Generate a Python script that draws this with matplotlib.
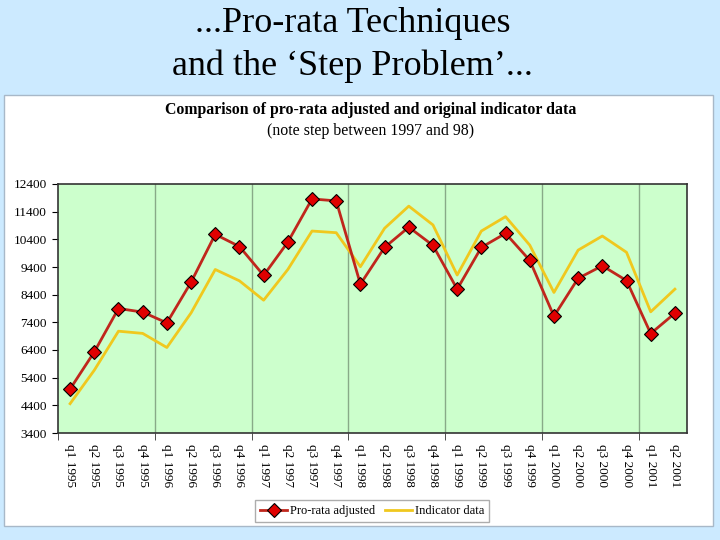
import matplotlib
matplotlib.use("Agg")
import matplotlib.pyplot as plt
from matplotlib.patches import Rectangle

plt.rcParams['font.family'] = ['Liberation Serif', 'DejaVu Serif']

# data
quarters = ['q1', 'q2', 'q3', 'q4']
years = [1995, 1996, 1997, 1998, 1999, 2000, 2001]
labels = [f'{q} {y}' for y in years for q in quarters][:26]

prorata = [4990, 6330, 7900, 7770, 7380, 8850, 10580, 10140, 9095, 10300,
           11860, 11790, 8780, 10110, 10840, 10180, 8600, 10110, 10615, 9640,
           7620, 8990, 9445, 8910, 6995, 7730]
indicator = [4460, 5670, 7080, 7000, 6490, 7740, 9310, 8900, 8200, 9310,
             10700, 10640, 9410, 10800, 11600, 10920, 9110, 10700, 11220, 10190,
             8480, 10010, 10520, 9930, 7780, 8600]

yticks = list(range(3400, 12401, 1000))

# figure
fig = plt.figure(figsize=(7.2, 5.4), dpi=100)
fig.patch.set_facecolor('#cceaff')

panel = Rectangle((4 / 720, 1 - 526 / 540), 709 / 720, 431 / 540,
                  transform=fig.transFigure, facecolor='white',
                  edgecolor='#a8b8c8', linewidth=1, zorder=-5)
fig.patches.append(panel)

fig.text(0.49, 0.957, '...Pro-rata Techniques', ha='center', va='center', fontsize=26)
fig.text(0.49, 0.877, 'and the \u2018Step Problem\u2019...', ha='center', va='center', fontsize=26)
fig.text(0.515, 0.797, 'Comparison of pro-rata adjusted and original indicator data',
         ha='center', va='center', fontsize=11.4, fontweight='bold')
fig.text(0.515, 0.757, '(note step between 1997 and 98)', ha='center', va='center', fontsize=11.4)

ax = fig.add_axes([58 / 720, 1 - 433 / 540, 629 / 720, 249 / 540])
ax.set_facecolor('#ccffcc')

x = list(range(len(labels)))
ax.plot(x, indicator, color='#f0c81e', linewidth=2, label='Indicator data', zorder=2)
ax.plot(x, prorata, color='#c0261c', linewidth=2, marker='D', markersize=7,
        markerfacecolor='#e00000', markeredgecolor='black', markeredgewidth=0.8,
        label='Pro-rata adjusted', zorder=3)

ax.set_xlim(-0.5, len(labels) - 0.5)
ax.set_ylim(3400, 12400)
ax.set_yticks(yticks)
ax.set_yticklabels([str(v) for v in yticks], fontsize=9.5)

# category labels, tick marks only at year boundaries
ax.set_xticks(x)
ax.set_xticklabels(labels, rotation=270, fontsize=9.5)
ax.tick_params(axis='x', length=0, pad=8)
bounds = [b - 0.5 for b in range(0, len(labels) + 1, 4)]
ax.set_xticks(bounds, minor=True)
ax.tick_params(axis='x', which='minor', length=5, color='#333333')
for b in bounds[1:]:
    ax.axvline(b, color='#88aa88', linewidth=1, zorder=1)
ax.tick_params(axis='y', length=4, pad=4)

for s in ax.spines.values():
    s.set_color('#333333')
    s.set_linewidth(1.2)

handles, lbls = ax.get_legend_handles_labels()
leg = fig.legend(handles[::-1], lbls[::-1], loc='center', bbox_to_anchor=(372 / 720, 1 - 511 / 540),
                 ncol=2, fontsize=9, frameon=True, fancybox=False, handlelength=2.2,
                 columnspacing=0.8, handletextpad=0.2, borderpad=0.4)
leg.get_frame().set_edgecolor('#999999')

fig.savefig('out.png', dpi=100, facecolor=fig.get_facecolor())
